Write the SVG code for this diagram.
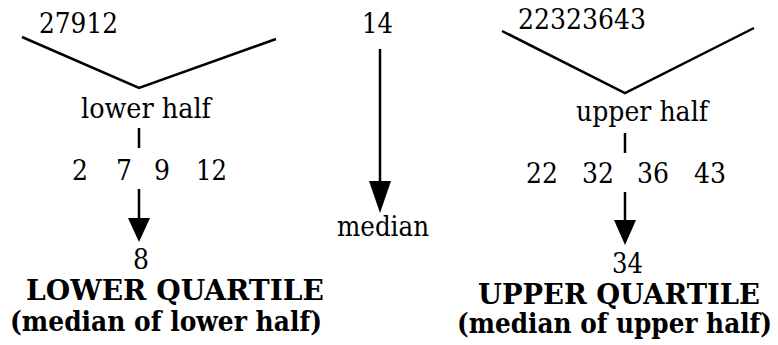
<svg xmlns="http://www.w3.org/2000/svg" width="778" height="345" viewBox="0 0 778 345">
<style>
text{font-family:"DejaVu Serif",serif;font-size:28px;fill:#000}
.b{font-weight:bold;font-size:27px}
.ln{stroke:#000;stroke-width:2.5;fill:none}
.ah{fill:#000}
</style>
<rect width="778" height="345" fill="#fff"/>
<g id="lower-data"><text x="39" y="33" textLength="79" lengthAdjust="spacingAndGlyphs">27912</text></g>
<g id="median-value"><text x="362" y="33" textLength="31" lengthAdjust="spacingAndGlyphs">14</text></g>
<g id="upper-data"><text x="518" y="29" textLength="128" lengthAdjust="spacingAndGlyphs">22323643</text></g>
<g id="lower-half"><text x="81" y="118" textLength="130" lengthAdjust="spacingAndGlyphs">lower half</text></g>
<g id="upper-half"><text x="576" y="121" textLength="132" lengthAdjust="spacingAndGlyphs">upper half</text></g>
<g id="lower-values"><text x="72" y="180" textLength="16" lengthAdjust="spacingAndGlyphs">2</text><text x="116" y="180" textLength="16" lengthAdjust="spacingAndGlyphs">7</text><text x="154" y="180" textLength="16" lengthAdjust="spacingAndGlyphs">9</text><text x="196" y="180" textLength="31" lengthAdjust="spacingAndGlyphs">12</text></g>
<g id="upper-values"><text x="526" y="183" textLength="32" lengthAdjust="spacingAndGlyphs">22</text><text x="582" y="183" textLength="32" lengthAdjust="spacingAndGlyphs">32</text><text x="637" y="183" textLength="32" lengthAdjust="spacingAndGlyphs">36</text><text x="694" y="183" textLength="32" lengthAdjust="spacingAndGlyphs">43</text></g>
<g id="median-label"><text x="337" y="236" textLength="92" lengthAdjust="spacingAndGlyphs">median</text></g>
<g id="lower-q-value"><text x="133" y="269" textLength="16" lengthAdjust="spacingAndGlyphs">8</text></g>
<g id="upper-q-value"><text x="612" y="273" textLength="31" lengthAdjust="spacingAndGlyphs">34</text></g>
<g id="lower-quartile"><text x="26" y="300" class="b" textLength="298" lengthAdjust="spacingAndGlyphs">LOWER QUARTILE</text><text x="10" y="331" class="b" textLength="312" lengthAdjust="spacingAndGlyphs">(median of lower half)</text></g>
<g id="upper-quartile"><text x="478" y="304" class="b" textLength="282" lengthAdjust="spacingAndGlyphs">UPPER QUARTILE</text><text x="772" y="333" class="b" text-anchor="end" textLength="315" lengthAdjust="spacingAndGlyphs">(median of upper half)</text></g>
<g id="connectors">
<polyline class="ln" points="22,37 139,88 276,39"/>
<polyline class="ln" points="502,31 625,93 754,28"/>
<line class="ln" x1="139" y1="128" x2="139" y2="148"/>
<line class="ln" x1="625" y1="133" x2="625" y2="153"/>
<line class="ln" x1="139" y1="189" x2="139" y2="222"/>
<polygon class="ah" points="128,218 150,218 139,242"/>
<line class="ln" x1="625" y1="192" x2="625" y2="224"/>
<polygon class="ah" points="614,220 636,220 625,245"/>
<line class="ln" x1="380" y1="49" x2="380" y2="185"/>
<polygon class="ah" points="369,181 391,181 380,213"/>
</g>
</svg>
